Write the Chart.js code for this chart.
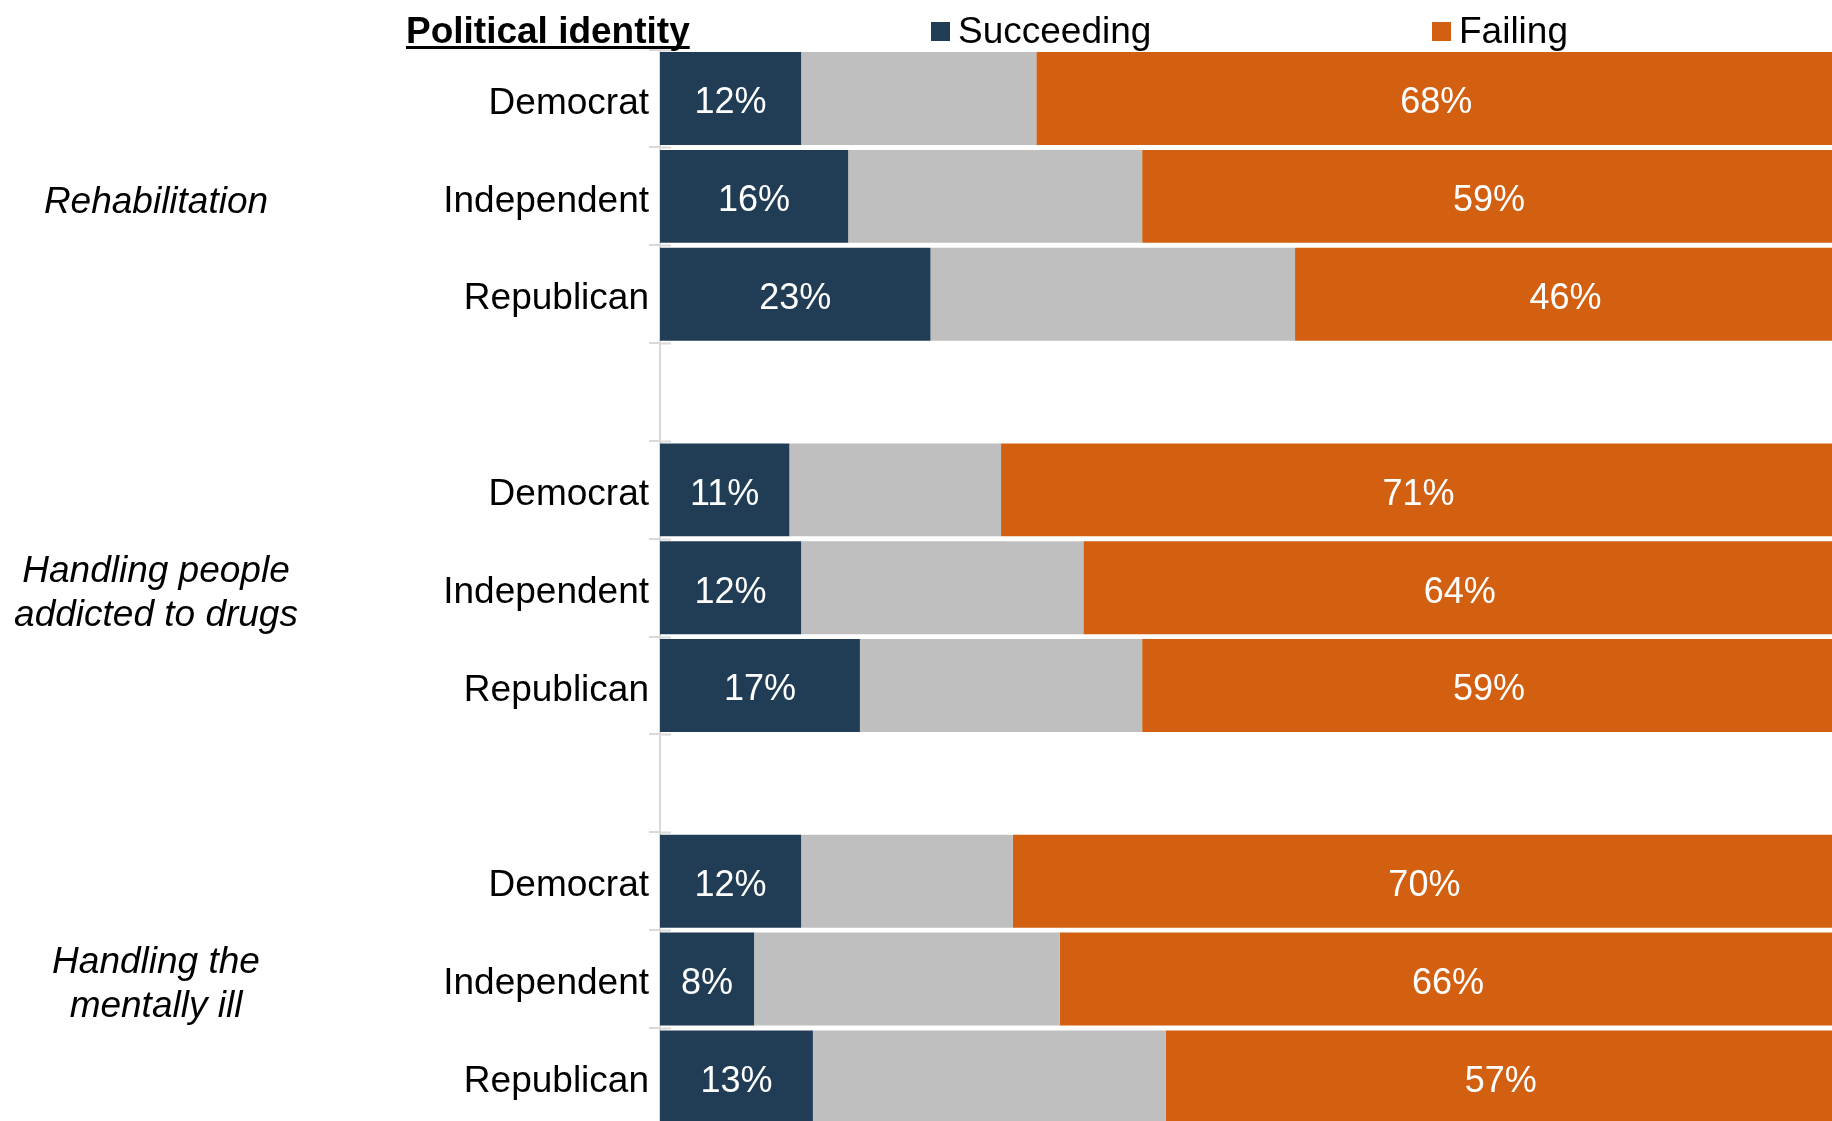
<!DOCTYPE html>
<html>
<head>
<meta charset="utf-8">
<script src="https://cdn.jsdelivr.net/npm/chart.js@4.4.1/dist/chart.umd.min.js"></script>
<style>
  html, body { margin: 0; padding: 0; background: #ffffff; overflow: hidden; }
  #wrap { width: 1832px; height: 1121px; overflow: hidden; position: relative; }
  #chart { display: block; }
</style>
</head>
<body>
<div id="wrap"><canvas id="chart" width="1836" height="1148"></canvas></div>
<script>
// data (percent)
const categories = ['Democrat', 'Independent', 'Republican', '',
  'Democrat', 'Independent', 'Republican', '',
  'Democrat', 'Independent', 'Republican'];
const succeeding = [12, 16, 23, null, 11, 12, 17, null, 12, 8, 13];
const neutral = [20, 25, 31, null, 18, 24, 24, null, 18, 26, 30];
const failing = [68, 59, 46, null, 71, 64, 59, null, 70, 66, 57];
const groupLabels = [['Rehabilitation'], ['Handling people', 'addicted to drugs'], ['Handling the', 'mentally ill']];
const groupRows = [1, 5, 9];
const headerTitle = 'Political identity';

const NAVY = '#213D55';
const GREY = '#BFBFBF';
const ORANGE = '#D35F11';
const AXIS = '#D9D9D9';
const FONT = '"Liberation Sans", Arial, sans-serif';

// header, legend, group labels, value labels, tick stubs
const extras = {
  id: 'extras',
  afterDraw(chart) {
    const ctx = chart.ctx;
    const y = chart.scales.y;
    const left = chart.chartArea.left;
    ctx.save();

    // tick stubs crossing into plot area
    ctx.strokeStyle = AXIS;
    ctx.lineWidth = 2;
    for (let i = 0; i <= categories.length; i++) {
      const py = Math.round(y.getPixelForValue(i - 0.5)) + 0.5;
      ctx.beginPath();
      ctx.moveTo(left, py);
      ctx.lineTo(left + 11, py);
      ctx.stroke();
    }

    // value labels
    ctx.fillStyle = '#ffffff';
    ctx.font = '36px ' + FONT;
    ctx.textAlign = 'center';
    ctx.textBaseline = 'middle';
    [0, 2].forEach((di) => {
      const meta = chart.getDatasetMeta(di);
      const vals = chart.data.datasets[di].data;
      meta.data.forEach((bar, i) => {
        if (vals[i] == null) return;
        const c = bar.getCenterPoint();
        ctx.fillText(vals[i] + '%', c.x, c.y + 5);
      });
    });

    // group labels
    ctx.fillStyle = '#000000';
    ctx.font = 'italic 37px ' + FONT;
    groupLabels.forEach((lines, g) => {
      const cy = y.getPixelForValue(groupRows[g]);
      const lh = 44;
      lines.forEach((txt, k) => {
        ctx.fillText(txt, 156, cy + 6 + (k - (lines.length - 1) / 2) * lh);
      });
    });

    // header title, underlined
    ctx.textAlign = 'left';
    ctx.textBaseline = 'alphabetic';
    ctx.font = 'bold 37px ' + FONT;
    ctx.fillText(headerTitle, 406, 43);
    const w = ctx.measureText(headerTitle).width;
    ctx.fillRect(406, 46, w, 3);

    // legend
    ctx.font = '37px ' + FONT;
    const items = [
      { label: chart.data.datasets[0].label, color: NAVY, x: 931 },
      { label: chart.data.datasets[2].label, color: ORANGE, x: 1432 },
    ];
    items.forEach((it) => {
      ctx.fillStyle = it.color;
      ctx.fillRect(it.x, 22, 19, 19);
      ctx.fillStyle = '#000000';
      ctx.fillText(it.label, it.x + 27, 43);
    });

    ctx.restore();
  },
};

const chart = new Chart(document.getElementById('chart'), {
  type: 'bar',
  data: {
    labels: categories,
    datasets: [
      { label: 'Succeeding', data: succeeding, backgroundColor: NAVY },
      { label: 'Neither', data: neutral, backgroundColor: GREY },
      { label: 'Failing', data: failing, backgroundColor: ORANGE },
    ],
  },
  options: {
    indexAxis: 'y',
    responsive: false,
    animation: false,
    devicePixelRatio: 1,
    layout: { padding: { top: 49.6, left: 0, right: 0, bottom: 0 } },
    datasets: { bar: { barPercentage: 0.95, categoryPercentage: 1, borderWidth: 0 } },
    plugins: {
      legend: { display: false },
      tooltip: { enabled: false },
      title: { display: false },
    },
    scales: {
      x: {
        stacked: true,
        min: 0,
        max: 100,
        display: false,
      },
      y: {
        stacked: true,
        afterFit: (scale) => { scale.width = 660; },
        border: { color: AXIS, width: 2 },
        grid: {
          offset: true,
          drawOnChartArea: false,
          drawTicks: true,
          tickLength: 11,
          color: AXIS,
          lineWidth: 2,
        },
        ticks: {
          padding: 0,
          labelOffset: 5,
          color: '#000000',
          font: { family: FONT, size: 37 },
        },
      },
    },
  },
  plugins: [extras],
});
</script>
</body>
</html>
